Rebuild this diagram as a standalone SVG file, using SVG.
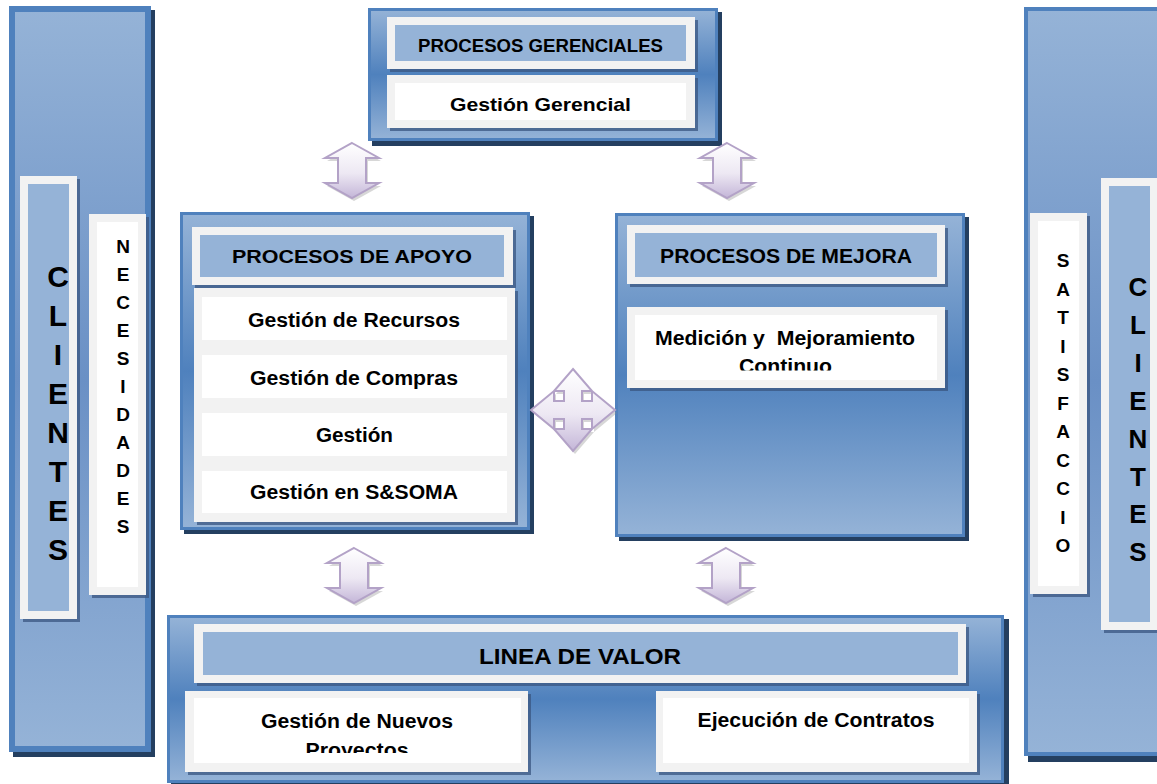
<svg xmlns="http://www.w3.org/2000/svg" width="1157" height="784" viewBox="0 0 1157 784">
<defs>
<linearGradient id="pg" x1="0" y1="0" x2="0" y2="1">
<stop offset="0" stop-color="#95B3D7"/><stop offset="0.5" stop-color="#4F81BD"/><stop offset="1" stop-color="#95B3D7"/>
</linearGradient>
<linearGradient id="cg" x1="0" y1="0" x2="0" y2="1">
<stop offset="0" stop-color="#95B3D7"/><stop offset="0.5" stop-color="#6A90C5"/><stop offset="1" stop-color="#95B3D7"/>
</linearGradient>
<linearGradient id="ag" x1="0" y1="0" x2="0" y2="1">
<stop offset="0" stop-color="#FFFFFF"/><stop offset="0.55" stop-color="#EDE8F3"/><stop offset="1" stop-color="#C4B6D8"/>
</linearGradient>
<clipPath id="clipMed"><rect x="635" y="315" width="302" height="55.5"/></clipPath>
<clipPath id="clipNue"><rect x="194" y="698" width="327" height="55"/></clipPath>
</defs>
<style>
.sh{fill:#243F60}
.pn{fill:url(#pg);stroke:#4F81BD;stroke-width:3}
.cp{fill:url(#cg);stroke:#4F81BD}
.fs{fill:#3A5680;opacity:0.75}
.fr{fill:#F2F2F2}
.hd{fill:#95B3D7}
.wh{fill:#FFFFFF}
.t{font-family:"Liberation Sans",Arial,sans-serif;font-weight:bold;fill:#000;text-anchor:middle}
.ar{fill:url(#ag);stroke:#B3A2C7;stroke-width:2;stroke-linejoin:miter}
.as{fill:#8C8C8C;opacity:0.35}
</style>
<rect width="1157" height="784" fill="#FFFFFF"/>

<g id="clientes-izq">
<rect class="sh" x="13" y="10" width="142" height="747"/>
<rect class="cp" x="12" y="9" width="136" height="740" stroke-width="6"/>
<rect class="fs" x="23" y="179" width="57" height="443"/>
<rect class="fr" x="20" y="176" width="57" height="443"/>
<rect class="hd" x="28" y="184" width="41" height="427"/>
<text class="t" font-size="30"><tspan x="58" y="287">C</tspan><tspan x="58" y="326">L</tspan><tspan x="58" y="365">I</tspan><tspan x="58" y="404">E</tspan><tspan x="58" y="443">N</tspan><tspan x="58" y="482">T</tspan><tspan x="58" y="521">E</tspan><tspan x="58" y="560">S</tspan></text>
</g>

<g id="necesidades">
<rect class="fs" x="92" y="217" width="57" height="381"/>
<rect class="fr" x="89" y="214" width="57" height="381"/>
<rect class="wh" x="97" y="222" width="41" height="365"/>
<text class="t" font-size="19"><tspan x="123" y="253">N</tspan><tspan x="123" y="281">E</tspan><tspan x="123" y="309">C</tspan><tspan x="123" y="337">E</tspan><tspan x="123" y="365">S</tspan><tspan x="123" y="393">I</tspan><tspan x="123" y="421">D</tspan><tspan x="123" y="449">A</tspan><tspan x="123" y="477">D</tspan><tspan x="123" y="505">E</tspan><tspan x="123" y="533">S</tspan></text>
</g>

<g id="clientes-der">
<rect class="sh" x="1028" y="12" width="140" height="750"/>
<rect class="cp" x="1026" y="9" width="150" height="745" stroke-width="4"/>
<rect class="fs" x="1104" y="181" width="60" height="452"/>
<rect class="fr" x="1101" y="178" width="60" height="452"/>
<rect class="hd" x="1109" y="186" width="41" height="436"/>
<text class="t" font-size="26"><tspan x="1138" y="296">C</tspan><tspan x="1138" y="334">L</tspan><tspan x="1138" y="372">I</tspan><tspan x="1138" y="410">E</tspan><tspan x="1138" y="448">N</tspan><tspan x="1138" y="486">T</tspan><tspan x="1138" y="523">E</tspan><tspan x="1138" y="561">S</tspan></text>
</g>

<g id="satisfaccio">
<rect class="fs" x="1033" y="216" width="57" height="381"/>
<rect class="fr" x="1030" y="213" width="57" height="381"/>
<rect class="wh" x="1038" y="221" width="41" height="365"/>
<text class="t" font-size="19"><tspan x="1063" y="267">S</tspan><tspan x="1063" y="295.5">A</tspan><tspan x="1063" y="324">T</tspan><tspan x="1063" y="352.5">I</tspan><tspan x="1063" y="381">S</tspan><tspan x="1063" y="409.5">F</tspan><tspan x="1063" y="438">A</tspan><tspan x="1063" y="466.5">C</tspan><tspan x="1063" y="495">C</tspan><tspan x="1063" y="523.5">I</tspan><tspan x="1063" y="552">O</tspan></text>
</g>

<g id="procesos-gerenciales">
<rect class="sh" x="372" y="12" width="350" height="134"/>
<rect class="pn" x="369.5" y="9.5" width="347" height="130"/>
<rect class="fs" x="390" y="20" width="308" height="52"/>
<rect class="fr" x="387" y="17" width="308" height="52"/>
<rect class="hd" x="395" y="25" width="291" height="36"/>
<text class="t" x="540.5" y="52" font-size="18.5" textLength="245" lengthAdjust="spacingAndGlyphs">PROCESOS GERENCIALES</text>
<rect class="fs" x="390" y="78" width="308" height="53"/>
<rect class="fr" x="387" y="75" width="308" height="53"/>
<rect class="wh" x="395" y="83" width="291" height="37"/>
<text class="t" x="540.5" y="111" font-size="19" textLength="181" lengthAdjust="spacingAndGlyphs">Gestión Gerencial</text>
</g>

<g id="procesos-apoyo">
<rect class="sh" x="184" y="216" width="350" height="318"/>
<rect class="pn" x="181.5" y="213.5" width="347" height="315"/>
<rect class="fs" x="195" y="230" width="321" height="58"/>
<rect class="fr" x="192" y="227" width="321" height="58"/>
<rect class="hd" x="200" y="235" width="304" height="42"/>
<text class="t" x="352" y="263" font-size="19" textLength="240" lengthAdjust="spacingAndGlyphs">PROCESOS DE APOYO</text>
<rect class="fs" x="197" y="291" width="321" height="234"/>
<rect class="fr" x="194" y="288" width="321" height="234"/>
<rect class="wh" x="202" y="297" width="305" height="43"/>
<rect class="wh" x="202" y="355" width="305" height="43"/>
<rect class="wh" x="202" y="413" width="305" height="43"/>
<rect class="wh" x="202" y="471" width="305" height="42"/>
<text class="t" x="354" y="327" font-size="19.5" textLength="212" lengthAdjust="spacingAndGlyphs">Gestión de Recursos</text>
<text class="t" x="354" y="385" font-size="19.5" textLength="208" lengthAdjust="spacingAndGlyphs">Gestión de Compras</text>
<text class="t" x="354.5" y="442" font-size="19.5" textLength="77" lengthAdjust="spacingAndGlyphs">Gestión</text>
<text class="t" x="354" y="499" font-size="19.5" textLength="208" lengthAdjust="spacingAndGlyphs">Gestión en S&amp;SOMA</text>
</g>

<g id="procesos-mejora">
<rect class="sh" x="619" y="217" width="350" height="324"/>
<rect class="pn" x="616.5" y="214.5" width="347" height="321"/>
<rect class="fs" x="630" y="228" width="318" height="59"/>
<rect class="fr" x="627" y="225" width="318" height="59"/>
<rect class="hd" x="635" y="233" width="302" height="44"/>
<text class="t" x="786" y="263" font-size="20" textLength="252" lengthAdjust="spacingAndGlyphs">PROCESOS DE MEJORA</text>
<rect class="fs" x="630" y="310" width="318" height="81"/>
<rect class="fr" x="627" y="307" width="318" height="81"/>
<rect class="wh" x="635" y="315" width="302" height="65"/>
<text class="t" x="785" y="345" font-size="20" textLength="260" lengthAdjust="spacingAndGlyphs" style="white-space:pre">Medición y  Mejoramiento</text>
<text class="t" x="785.5" y="373" font-size="20" textLength="93" lengthAdjust="spacingAndGlyphs" clip-path="url(#clipMed)">Continuo</text>
</g>

<g id="linea-de-valor">
<rect class="sh" x="171" y="619" width="838" height="170"/>
<rect class="pn" x="168.5" y="616.5" width="834" height="165"/>
<rect class="fs" x="197" y="627" width="772" height="59"/>
<rect class="fr" x="194" y="624" width="772" height="59"/>
<rect class="hd" x="203" y="632" width="755" height="43"/>
<text class="t" x="580" y="664" font-size="21.5" textLength="202" lengthAdjust="spacingAndGlyphs">LINEA DE VALOR</text>
<rect class="fs" x="188" y="694" width="343" height="81"/>
<rect class="fr" x="185" y="691" width="343" height="81"/>
<rect class="wh" x="194" y="698" width="327" height="65"/>
<text class="t" x="357" y="728" font-size="20" textLength="192" lengthAdjust="spacingAndGlyphs">Gestión de Nuevos</text>
<text class="t" x="357" y="757" font-size="20" textLength="103" lengthAdjust="spacingAndGlyphs" clip-path="url(#clipNue)">Proyectos</text>
<rect class="fs" x="659" y="694" width="321" height="81"/>
<rect class="fr" x="656" y="691" width="321" height="81"/>
<rect class="wh" x="663" y="698" width="306" height="65"/>
<text class="t" x="816" y="727" font-size="20" textLength="237" lengthAdjust="spacingAndGlyphs">Ejecución de Contratos</text>
</g>

<g id="connectors">
<g id="arrow-top-left" transform="translate(352,143)">
<path class="as" transform="translate(2,3)" d="M0,0 L27,15 L14,15 L14,40 L27,40 L0,55 L-27,40 L-14,40 L-14,15 L-27,15 Z"/>
<path class="ar" d="M0,0 L27,15 L14,15 L14,40 L27,40 L0,55 L-27,40 L-14,40 L-14,15 L-27,15 Z"/>
</g>
<g id="arrow-top-right" transform="translate(727,143)">
<path class="as" transform="translate(2,3)" d="M0,0 L27,15 L14,15 L14,40 L27,40 L0,55 L-27,40 L-14,40 L-14,15 L-27,15 Z"/>
<path class="ar" d="M0,0 L27,15 L14,15 L14,40 L27,40 L0,55 L-27,40 L-14,40 L-14,15 L-27,15 Z"/>
</g>
<g id="arrow-bottom-left" transform="translate(354,548)">
<path class="as" transform="translate(2,3)" d="M0,0 L27,15 L14,15 L14,40 L27,40 L0,55 L-27,40 L-14,40 L-14,15 L-27,15 Z"/>
<path class="ar" d="M0,0 L27,15 L14,15 L14,40 L27,40 L0,55 L-27,40 L-14,40 L-14,15 L-27,15 Z"/>
</g>
<g id="arrow-bottom-right" transform="translate(726,548)">
<path class="as" transform="translate(2,3)" d="M0,0 L27,15 L14,15 L14,40 L27,40 L0,55 L-27,40 L-14,40 L-14,15 L-27,15 Z"/>
<path class="ar" d="M0,0 L27,15 L14,15 L14,40 L27,40 L0,55 L-27,40 L-14,40 L-14,15 L-27,15 Z"/>
</g>
<g id="arrow-center" transform="translate(573,410)">
<path class="as" transform="translate(2,3)" d="M0,-41 L19,-19 L9,-19 L9,-9 L19,-9 L19,-19 L42,0 L19,19 L19,9 L9,9 L9,19 L19,19 L0,41 L-19,19 L-9,19 L-9,9 L-19,9 L-19,19 L-42,0 L-19,-19 L-19,-9 L-9,-9 L-9,-19 L-19,-19 Z"/>
<path class="ar" d="M0,-41 L19,-19 L9,-19 L9,-9 L19,-9 L19,-19 L42,0 L19,19 L19,9 L9,9 L9,19 L19,19 L0,41 L-19,19 L-9,19 L-9,9 L-19,9 L-19,19 L-42,0 L-19,-19 L-19,-9 L-9,-9 L-9,-19 L-19,-19 Z"/>
</g>
</g>
</svg>
